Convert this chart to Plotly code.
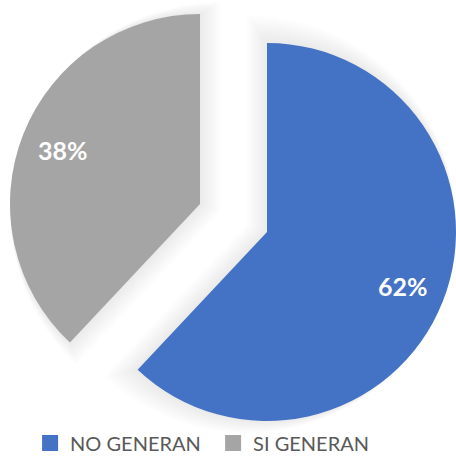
import math
import plotly.graph_objects as go

labels = ["NO GENERAN", "SI GENERAN"]
values = [62, 38]
colors = ["#4472C4", "#A5A5A5"]

W, H = 456, 457

def dom(cx, cy, r):
    return dict(x=[max(0, (cx - r) / W), min(1, (cx + r) / W)],
                y=[max(0, 1 - (cy + r) / H), min(1, 1 - (cy - r) / H)])

# each slice is drawn by its own pie trace (exploded look); the other slice is transparent
centers = [(267, 232), (200, 204)]
radii = [189, 190]
total = sum(values)

# mid-angle of each slice (clockwise from 12 o'clock)
mids = []
start = 0.0
for v in values:
    frac = v / total
    mids.append(2 * math.pi * (start + frac / 2))
    start += frac

fig = go.Figure()

# soft drop shadow: faint, slightly grown copies of each slice behind it
for k in [20, 18, 16, 14, 12, 10, 8, 6, 4, 2]:
    for i, (cx, cy) in enumerate(centers):
        m = mids[i]
        half = math.pi * values[i] / total
        back = k / math.sin(half)
        scx = cx - back * math.sin(m)
        scy = cy + back * math.cos(m)
        cols = ["rgba(0,0,0,0)"] * len(values)
        cols[i] = "rgba(0,0,0,0.009)"
        fig.add_trace(go.Pie(
            labels=labels, values=values, sort=False, direction="clockwise", rotation=0,
            marker=dict(colors=cols, line=dict(width=0)),
            textinfo="none", hoverinfo="skip", showlegend=False,
            domain=dom(scx, scy, radii[i] + k),
        ))

annotations = []
for i, (cx, cy) in enumerate(centers):
    cols = ["rgba(0,0,0,0)"] * len(values)
    cols[i] = colors[i]
    fig.add_trace(go.Pie(
        labels=labels, values=values, sort=False, direction="clockwise", rotation=0,
        marker=dict(colors=cols, line=dict(width=0)),
        textinfo="none", hoverinfo="label+percent", showlegend=False,
        domain=dom(cx, cy, radii[i]),
    ))
    frac = values[i] / total
    lx = cx + 0.776 * radii[i] * math.sin(mids[i])
    ly = cy - 0.776 * radii[i] * math.cos(mids[i])
    annotations.append(dict(x=lx / W, y=1 - ly / H, xref="paper", yref="paper",
                            xanchor="center", yanchor="middle",
                            text=f"{round(100 * frac)}%", showarrow=False,
                            font=dict(family="Lato", size=25, color="white", weight="bold")))

for lab, c in zip(labels, colors):
    fig.add_trace(go.Scatter(x=[None], y=[None], mode="markers", name=lab,
                             marker=dict(symbol="square", size=16, color=c)))

fig.update_layout(
    width=W, height=H, margin=dict(l=0, r=0, t=0, b=0, autoexpand=False),
    paper_bgcolor="white", plot_bgcolor="rgba(0,0,0,0)",
    xaxis=dict(visible=False), yaxis=dict(visible=False),
    annotations=annotations,
    legend=dict(orientation="h", x=0.066, y=-0.012, xanchor="left", yanchor="bottom",
                font=dict(family="Lato", size=20, color="#595959"),
                entrywidth=138, entrywidthmode="pixels",
                bgcolor="rgba(0,0,0,0)"),
)
fig.write_html("out.html")
